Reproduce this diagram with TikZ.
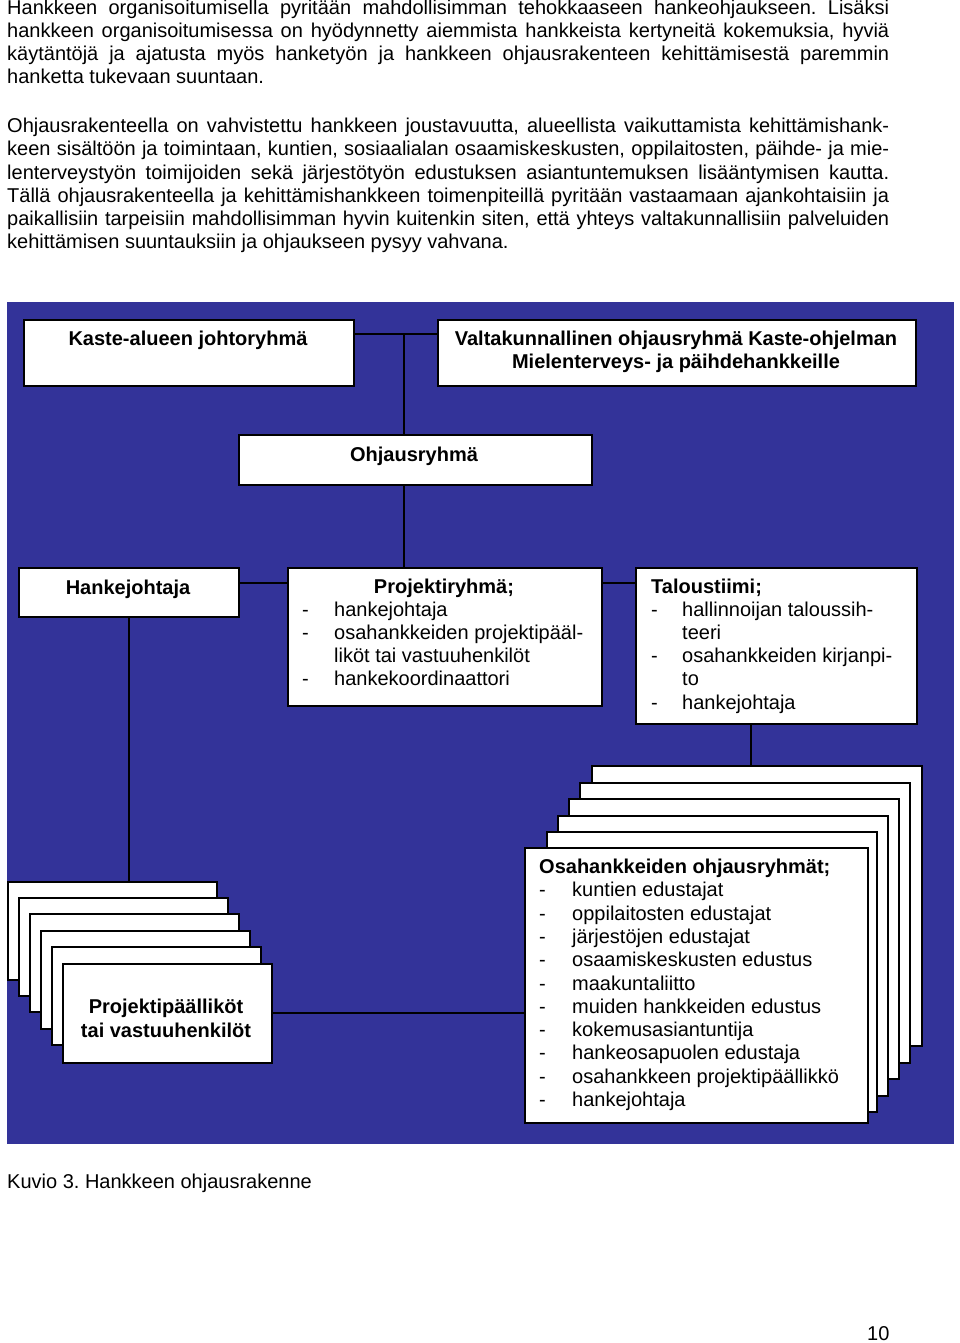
\documentclass[tikz,border=0pt]{standalone}
\usepackage{fontspec}
\setmainfont{Liberation Sans}
\frenchspacing
\definecolor{panelblue}{RGB}{51,51,153}
\newcommand\bx[5]{\node[box,minimum width=#4pt,minimum height=#5pt] (#1) at (#2,#3) {};}
\newcommand\li[5]{\node[txt] (#1-d) at (#2,#4) {-};\node[txt] (#1) at (#3,#4) {#5};}
\newcommand\jl[3]{\node[txt] (#1) at (7,#2) {\makebox[882pt][s]{#3}};}
\begin{document}
\begin{tikzpicture}[x=1pt,y=-1pt,
  box/.style={draw=black,fill=white,line width=1.6pt,inner sep=0pt,anchor=north west},
  link/.style={draw=black,line width=1.6pt},
  txt/.style={inner sep=0pt,anchor=base west,font=\fontsize{20}{23}\selectfont},
  ctxt/.style={txt,anchor=base},
  btxt/.style={inner sep=0pt,anchor=base,font=\fontsize{20}{23}\selectfont\bfseries},
  bltxt/.style={btxt,anchor=base west}]
\useasboundingbox (0,0) rectangle (960,1343);
\fill[white] (0,0) rectangle (960,1343);
% top text
\jl{t1}{15}{Hankkeen organisoitumisella pyritään mahdollisimman tehokkaaseen hankeohjaukseen. Lisäksi}
\jl{t2}{38}{hankkeen organisoitumisessa on hyödynnetty aiemmista hankkeista kertyneitä kokemuksia, hyviä}
\jl{t3}{61}{käytäntöjä ja ajatusta myös hanketyön ja hankkeen ohjausrakenteen kehittämisestä paremmin}
\node[txt] (t4) at (7,84) {hanketta tukevaan suuntaan.};
\jl{u1}{133}{Ohjausrakenteella on vahvistettu hankkeen joustavuutta, alueellista vaikuttamista kehittämishank-}
\jl{u2}{156}{keen sisältöön ja toimintaan, kuntien, sosiaalialan osaamiskeskusten, oppilaitosten, päihde- ja mie-}
\jl{u3}{179}{lenterveystyön toimijoiden sekä järjestötyön edustuksen asiantuntemuksen lisääntymisen kautta.}
\jl{u4}{202}{Tällä ohjausrakenteella ja kehittämishankkeen toimenpiteillä pyritään vastaamaan ajankohtaisiin ja}
\jl{u5}{225}{paikallisiin tarpeisiin mahdollisimman hyvin kuitenkin siten, että yhteys valtakunnallisiin palveluiden}
\node[txt] (u6) at (7,248) {kehittämisen suuntauksiin ja ohjaukseen pysyy vahvana.};
% panel
\node[fill=panelblue,inner sep=0pt,anchor=north west,minimum width=947pt,minimum height=842pt] (panel) at (7,302) {};
% boxes
\bx{kaste}{23}{319}{330}{66}
\bx{valta}{437}{319}{478}{66}
\bx{ohj}{238}{434}{353}{50}
\bx{hj}{18}{567}{220}{49}
\bx{proj}{287}{567}{314}{138}
\bx{talo}{635}{567}{281}{156}
\coordinate (j1) at (404,334);
\coordinate (j2) at (0,583);
\coordinate (j3) at (751,0);
\coordinate (j4) at (0,1013);
% left stack
\bx{L1}{7}{881}{209}{98}
\bx{L2}{18}{897}{209}{98}
\bx{L3}{29}{913}{209}{98}
\bx{L4}{40}{930}{209}{98}
\bx{L5}{51}{946}{209}{98}
\bx{L6}{62}{963}{209}{99}
% right stack
\bx{R1}{591}{765}{330}{280}
\bx{R2}{579}{782}{330}{280}
\bx{R3}{568}{798}{330}{280}
\bx{R4}{557}{815}{330}{280}
\bx{R5}{546}{831}{330}{280}
\bx{osa}{524}{847}{343}{275}
% connectors
\draw[link] (kaste.east |- j1) -- (valta.west |- j1);
\draw[link] (j1) -- (j1 |- ohj.north);
\draw[link] (j1 |- ohj.south) -- (j1 |- proj.north);
\draw[link] (hj.east |- j2) -- (proj.west |- j2);
\draw[link] (proj.east |- j2) -- (talo.west |- j2);
\draw[link] (hj.south) -- (hj.south |- L1.north);
\draw[link] (j3 |- talo.south) -- (j3 |- R1.north);
\draw[link] (L6.east |- j4) -- (osa.west |- j4);
% box texts
\node[btxt] (kasteT) at (188,345) {Kaste-alueen johtoryhmä};
\node[btxt] (valtaT1) at (676,345) {Valtakunnallinen ohjausryhmä Kaste-ohjelman};
\node[btxt] (valtaT2) at (676,368) {Mielenterveys- ja päihdehankkeille};
\node[btxt] (ohjT) at (414,461) {Ohjausryhmä};
\node[btxt] (hjT) at (128,594) {Hankejohtaja};
\node[btxt] (projT) at (444,593) {Projektiryhmä;};
\li{p1}{302}{334}{616}{hankejohtaja}
\li{p2}{302}{334}{639}{osahankkeiden projektipääl-}
\node[txt] (p2b) at (334,662) {liköt tai vastuuhenkilöt};
\li{p3}{302}{334}{685}{hankekoordinaattori}
\node[bltxt] (taloT) at (651,593) {Taloustiimi;};
\li{q1}{651}{682}{616}{hallinnoijan taloussih-}
\node[txt] (q1b) at (682,639) {teeri};
\li{q2}{651}{682}{662}{osahankkeiden kirjanpi-}
\node[txt] (q2b) at (682,685) {to};
\li{q3}{651}{682}{709}{hankejohtaja}
\node[btxt] (L6T1) at (166,1013) {Projektipäälliköt};
\node[btxt] (L6T2) at (166,1037) {tai vastuuhenkilöt};
\node[bltxt] (osaT) at (539,873) {Osahankkeiden ohjausryhmät;};
\li{o1}{539}{572}{896}{kuntien edustajat}
\li{o2}{539}{572}{920}{oppilaitosten edustajat}
\li{o3}{539}{572}{943}{järjestöjen edustajat}
\li{o4}{539}{572}{966}{osaamiskeskusten edustus}
\li{o5}{539}{572}{990}{maakuntaliitto}
\li{o6}{539}{572}{1013}{muiden hankkeiden edustus}
\li{o7}{539}{572}{1036}{kokemusasiantuntija}
\li{o8}{539}{572}{1059}{hankeosapuolen edustaja}
\li{o9}{539}{572}{1083}{osahankkeen projektipäällikkö}
\li{o10}{539}{572}{1106}{hankejohtaja}
% caption and page number
\node[txt] (cap) at (7,1188) {Kuvio 3. Hankkeen ohjausrakenne};
\node[txt] (pg) at (867,1340) {10};
\end{tikzpicture}
\end{document}
